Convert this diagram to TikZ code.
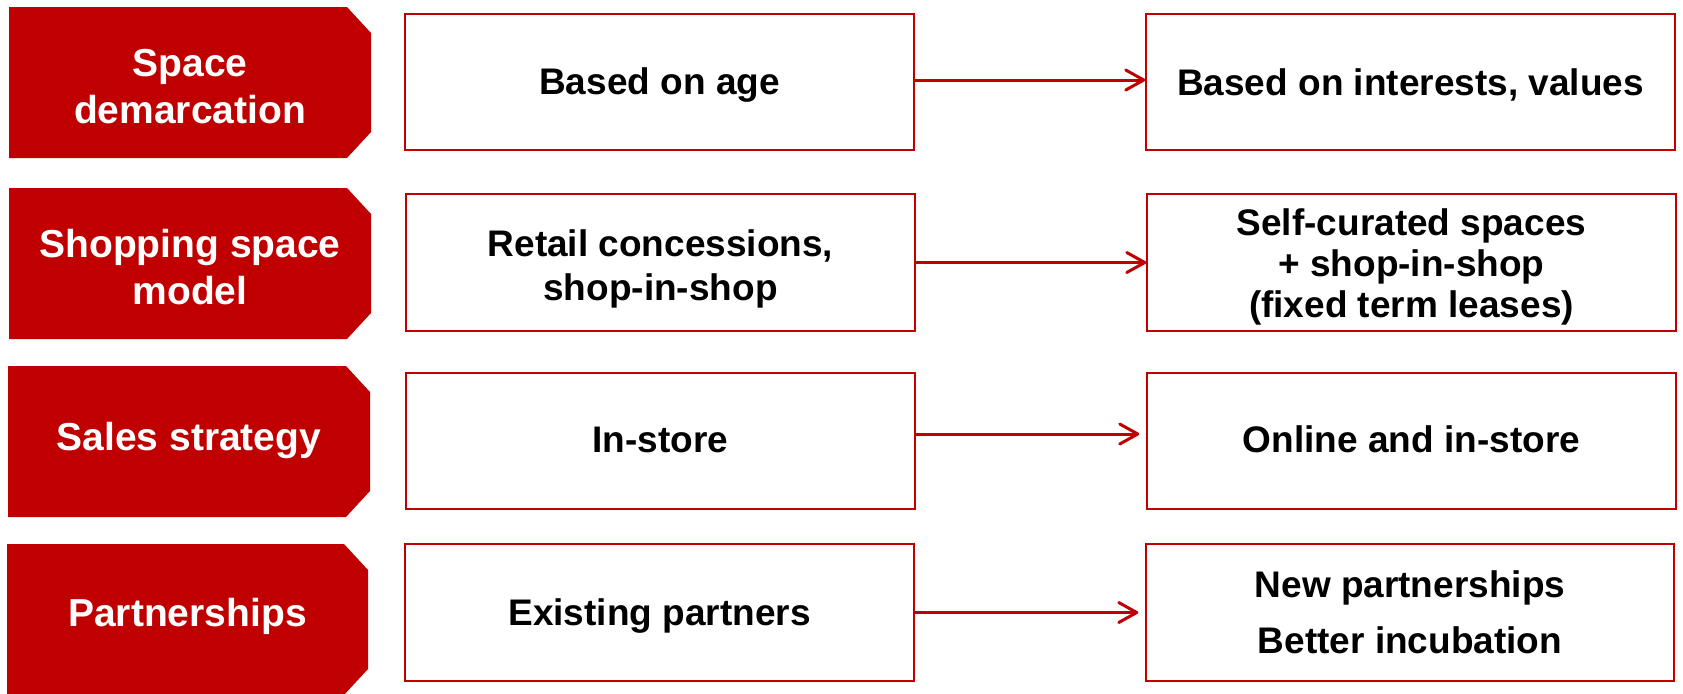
\documentclass[tikz,border=0pt]{standalone}
\usepackage{fontspec}
\setmainfont{Liberation Sans}
\usetikzlibrary{arrows.meta,calc}
\definecolor{brandred}{HTML}{C00000}
\begin{document}
\begin{tikzpicture}[x=0.5pt,y=-0.5pt,
  tag/.style={fill=brandred},
  taglabel/.style={font=\bfseries\fontsize{19.5pt}{23.5pt}\selectfont, text=white, align=center, inner sep=0pt},
  card/.style={draw=brandred, line width=0.75pt, fill=white, inner sep=0pt, minimum height=68pt},
  midcard/.style={card, minimum width=254.5pt},
  endcard/.style={card, minimum width=264.5pt},
  cardtext/.style={inner sep=0pt, align=center, font=\bfseries\fontsize{18.5pt}{20.5pt}\selectfont},
  flow/.style={draw=brandred, line width=1.5pt, line cap=round,
               -{Straight Barb[length=9pt,width=10pt,line cap=round,line join=round]}}
]
\useasboundingbox (0,0) rectangle (1683,693);

% red category tags with clipped right corners
\fill[tag] (9,7) -- (347,7) -- (371,33) -- (371,132) -- (347,158) -- (9,158) -- cycle;
\fill[tag] (9,188) -- (347,188) -- (371,214) -- (371,313) -- (347,339) -- (9,339) -- cycle;
\fill[tag] (8,366) -- (346,366) -- (370,392) -- (370,491) -- (346,517) -- (8,517) -- cycle;
\fill[tag] (7,544) -- (344,544) -- (368,570) -- (368,669) -- (344,695) -- (7,695) -- cycle;

\node[taglabel] (c1) at (190,87) {Space\\demarcation};
\node[taglabel] (c2) at (190,267) {Shopping space\\model};
\node[taglabel] (c3) at (189,440) {Sales strategy};
\node[taglabel] (c4) at (187.5,616) {Partnerships};

% current state
\node[midcard] (m1) at (659.5,82) {};
\node[midcard, minimum height=68.5pt] (m2) at (660.5,262.5) {};
\node[midcard] (m3) at (660.5,441) {};
\node[midcard, minimum height=68.5pt] (m4) at (659.5,612.5) {};

\node[cardtext] (m1t) at ($(m1)+(0,3.5)$) {Based on age};
\node[cardtext, font=\bfseries\fontsize{18.5pt}{22pt}\selectfont] (m2t) at ($(m2)+(0,6)$) {Retail concessions,\\shop-in-shop};
\node[cardtext] (m3t) at ($(m3)+(0,-1)$) {In-store};
\node[cardtext] (m4t) at ($(m4)+(0,3)$) {Existing partners};

% target state
\node[endcard] (r1) at (1410.5,82) {};
\node[endcard, minimum height=68.5pt] (r2) at (1411.5,262.5) {};
\node[endcard] (r3) at (1411.5,441) {};
\node[endcard, minimum width=264pt, minimum height=68.5pt] (r4) at (1410,612.5) {};

\node[cardtext] (r1t) at ($(r1)+(0,3)$) {Based on interests, values};
\node[cardtext] (r2t) at ($(r2)+(0,4)$) {Self-curated spaces\\+ shop-in-shop\\(fixed term leases)};
\node[cardtext] (r3t) at ($(r3)+(0,-2)$) {Online and in-store};
\node[cardtext] (r4t) at (r4) {New partnerships\\[7.25pt]Better incubation};

% transitions
\draw[flow] ($(m1.east)+(0,-2)$) -- ($(r1.west)+(0,-2)$);
\draw[flow] (m2.east) -- (r2.west);
\draw[flow, shorten >=3.5pt] ($(m3.east)+(0,-7)$) -- ($(r3.west)+(0,-7)$);
\draw[flow, shorten >=3.5pt] (m4.east) -- (r4.west);
\end{tikzpicture}
\end{document}
